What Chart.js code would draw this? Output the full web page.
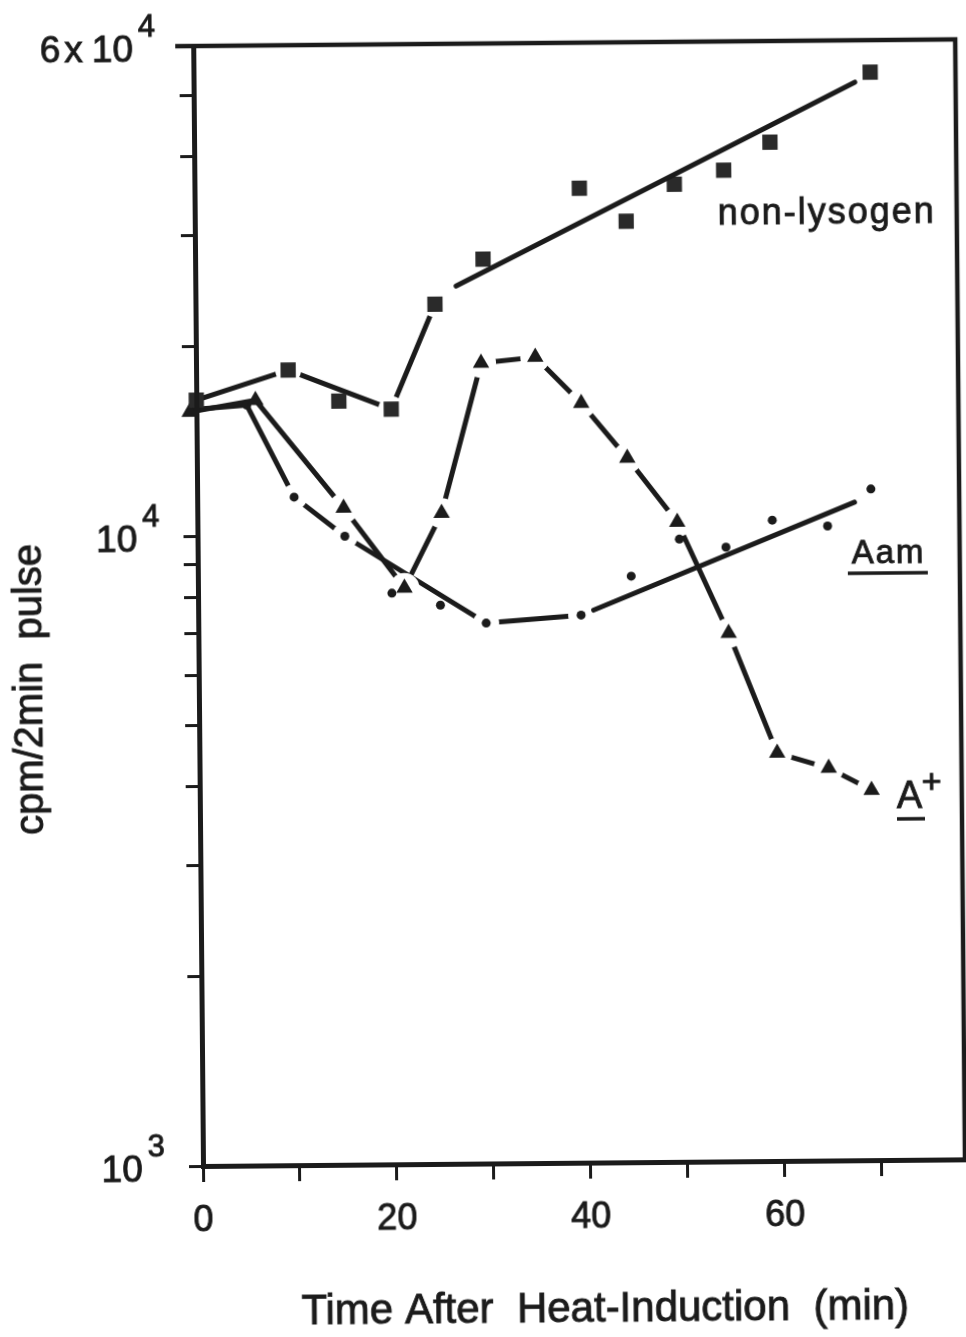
<!DOCTYPE html>
<html>
<head>
<meta charset="utf-8">
<script src="https://cdn.jsdelivr.net/npm/chart.js@4.4.1/dist/chart.umd.min.js"></script>
<style>
  html, body { margin: 0; padding: 0; background: #fff; overflow: hidden; width: 966px; height: 1337px; }
  /* a figura original é um scan levemente girado */
  #wrap { position: absolute; left: 0; top: 0; width: 980px; height: 1337px;
          transform: rotate(-0.5deg); transform-origin: 203px 1166px; }
</style>
</head>
<body>
<div id="wrap"><canvas id="grafico"></canvas></div>
<script>
// === DADOS ===
const xTicks = [0, 10, 20, 30, 40, 50, 60, 70];
const xTickLabels = ['0', '', '20', '', '40', '', '60', ''];
const yTicks = [1000, 2000, 3000, 4000, 5000, 6000, 7000, 8000, 9000, 10000, 20000, 30000, 40000, 50000, 60000];
const yLabelValues = [1000, 10000, 60000];
const yLabelPrefix = ['', '', '6x'];
const yLabelBase = ['10', '10', '10'];
const yLabelExp = ['3', '4', '4'];

// non-lysogen (quadrados)
const nonLysT = [0, 9.5, 14.7, 20.1, 24.7, 29.7, 39.7, 44.5, 49.5, 54.6, 59.4, 69.8];
const nonLysV = [16440, 18300, 16310, 15810, 23170, 27280, 35240, 31190, 35650, 37470, 41450, 53370];
const nonLysCurveT = [0, 9.5, 20.1, 24.7];
const nonLysCurveV = [16440, 18300, 15810, 23170];
const nonLysFitT = [26.9, 68.2];
const nonLysFitV = [24740, 51470];

// A+ (triângulos)
const aPlusT = [-0.7, 6.1, 15.1, 21.3, 25.2, 29.4, 35.0, 39.7, 44.4, 49.5, 54.7, 59.6, 64.9, 69.3];
const aPlusV = [15740, 16410, 11030, 8217, 10790, 18660, 19030, 16060, 13120, 10370, 6898, 4442, 4198, 3869];

// Aam (pontos)
const aamT = [0, 5.2, 10.0, 15.2, 20.0, 25.0, 29.7, 39.5, 44.7, 49.7, 54.5, 59.3, 65.0, 69.5];
const aamV = [15900, 16120, 11500, 9950, 8068, 7712, 7211, 7403, 8522, 9741, 9447, 10410, 10170, 11630];
const aamCurveT = [0, 5.2, 10.0, 15.2, 29.7, 39.5];
const aamCurveV = [15900, 16120, 11500, 9950, 7211, 7403];
const aamFitT = [40.8, 67.8];
const aamFitV = [7535, 11090];

const ink = '#1b1b1b';
const fonte = '"Liberation Sans", Arial, sans-serif';

function pares(ts, vs) {
  return ts.map((t, i) => ({ x: t, y: vs[i] }));
}

// linha desenhada à mão entre os pontos
function curva(ts, vs, ordem) {
  return {
    data: pares(ts, vs), showLine: true, borderColor: ink, borderWidth: 5,
    borderCapStyle: 'round', borderJoinStyle: 'round',
    pointRadius: 0, clip: false, order: ordem
  };
}

// círculo branco que abre o espaço da linha perto de cada marcador
function halo(ts, vs, raio, semHalo) {
  return {
    data: pares(ts, vs), showLine: false,
    pointRadius: c => (c.dataIndex < semHalo ? 0 : raio),
    pointBackgroundColor: '#fff', pointBorderWidth: 0, clip: false, order: 30
  };
}

function marcadores(ts, vs, estilo, raio, cor, ordem) {
  return {
    data: pares(ts, vs), showLine: false, pointStyle: estilo, pointRadius: raio,
    pointBackgroundColor: cor, pointBorderWidth: 0, clip: false, order: ordem
  };
}

// texto um pouco mais grosso, como no scan
function escreve(ctx, txt, x, y) {
  ctx.fillText(txt, x, y);
  ctx.lineWidth = 0.9;
  ctx.strokeText(txt, x, y);
}

// textos, moldura e rótulos com expoente
const textos = {
  id: 'textos',
  afterDraw(chart) {
    const ctx = chart.ctx;
    const a = chart.chartArea;
    const sx = chart.scales.x, sy = chart.scales.y;
    ctx.save();
    ctx.strokeStyle = ink;
    ctx.fillStyle = ink;

    // moldura de cima e da direita
    ctx.lineWidth = 4.5;
    ctx.beginPath();
    ctx.moveTo(a.left - 18, a.top);
    ctx.lineTo(a.right, a.top);
    ctx.lineTo(a.right, a.bottom);
    ctx.stroke();

    // rótulos do eixo x
    ctx.font = '36px ' + fonte;
    ctx.textAlign = 'center';
    ctx.textBaseline = 'alphabetic';
    xTicks.forEach((v, i) => {
      if (xTickLabels[i]) escreve(ctx, xTickLabels[i], sx.getPixelForValue(v), a.bottom + 65);
    });

    // rótulos do eixo y (10^n)
    ctx.textAlign = 'right';
    yLabelValues.forEach((v, i) => {
      const yb = sy.getPixelForValue(v) + 15;
      const right = a.left - 38;
      ctx.font = '31px ' + fonte;
      escreve(ctx, yLabelExp[i], right, yb - 25);
      const wExp = ctx.measureText(yLabelExp[i]).width;
      ctx.font = '37px ' + fonte;
      const xBase = right - wExp - 5;
      escreve(ctx, yLabelBase[i], xBase, yb);
      let xr = xBase - ctx.measureText(yLabelBase[i]).width - 9;
      [...yLabelPrefix[i]].reverse().forEach(ch => {
        escreve(ctx, ch, xr, yb);
        xr -= ctx.measureText(ch).width + 4;
      });
    });

    // título do eixo x
    ctx.textAlign = 'center';
    ctx.font = '42px ' + fonte;
    escreve(ctx, 'Time After  Heat-Induction  (min)', 604, 1325);

    // título do eixo y
    ctx.save();
    ctx.translate(46, 688);
    ctx.rotate(-Math.PI / 2);
    ctx.font = '40px ' + fonte;
    escreve(ctx, 'cpm/2min  pulse', 0, 0);
    ctx.restore();

    // nomes das curvas
    ctx.textAlign = 'left';
    if ('letterSpacing' in ctx) ctx.letterSpacing = '2px';
    ctx.font = '36px ' + fonte;
    escreve(ctx, 'non-lysogen', 726, 229);
    ctx.font = '33px ' + fonte;
    escreve(ctx, 'Aam', 857, 569);
    if ('letterSpacing' in ctx) ctx.letterSpacing = '0px';
    ctx.font = '38px ' + fonte;
    escreve(ctx, 'A', 900, 814);
    ctx.font = '34px ' + fonte;
    ctx.textAlign = 'center';
    ctx.textBaseline = 'middle';
    escreve(ctx, '+', 935, 790);

    // sublinhados
    ctx.lineWidth = 3.5;
    ctx.beginPath();
    ctx.moveTo(853, 579); ctx.lineTo(933, 579);
    ctx.moveTo(900, 825); ctx.lineTo(928, 825);
    ctx.stroke();

    ctx.restore();
  }
};

new Chart(document.getElementById('grafico'), {
  type: 'scatter',
  data: {
    datasets: [
      curva(nonLysCurveT, nonLysCurveV, 40),
      curva(aPlusT, aPlusV, 40),
      curva(aamCurveT, aamCurveV, 40),
      halo(nonLysCurveT, nonLysCurveV, 13, 1),
      halo(aPlusT, aPlusV, 15, 2),
      halo(aamCurveT, aamCurveV, 13, 2),
      marcadores(aamT, aamV, 'circle', 4.5, ink, 22),
      marcadores(aPlusT, aPlusV, 'triangle', 9.5, ink, 21),
      marcadores(nonLysT, nonLysV, 'rect', 10.8, '#2a2a2a', 20),
      curva(nonLysFitT, nonLysFitV, 10),
      curva(aamFitT, aamFitV, 10)
    ]
  },
  options: {
    responsive: true,
    maintainAspectRatio: false,
    animation: false,
    events: [],
    layout: { padding: { left: 189, top: 46, right: 12, bottom: 155 } },
    plugins: { legend: { display: false }, tooltip: { enabled: false } },
    scales: {
      x: {
        type: 'linear', min: 0, max: 78.6,
        afterBuildTicks: s => { s.ticks = xTicks.map(v => ({ value: v })); },
        ticks: { display: false },
        grid: { drawOnChartArea: false, drawTicks: true, tickLength: 16, tickWidth: 3, tickColor: ink, z: 1 },
        border: { display: true, color: ink, width: 5, z: 1 }
      },
      y: {
        type: 'logarithmic', min: 1000, max: 60000,
        afterBuildTicks: s => { s.ticks = yTicks.map(v => ({ value: v })); },
        ticks: { display: false },
        grid: { drawOnChartArea: false, drawTicks: true, tickLength: 14, tickWidth: 3, tickColor: ink, z: 1 },
        border: { display: true, color: ink, width: 5, z: 1 }
      }
    }
  },
  plugins: [textos]
});
</script>
</body>
</html>
